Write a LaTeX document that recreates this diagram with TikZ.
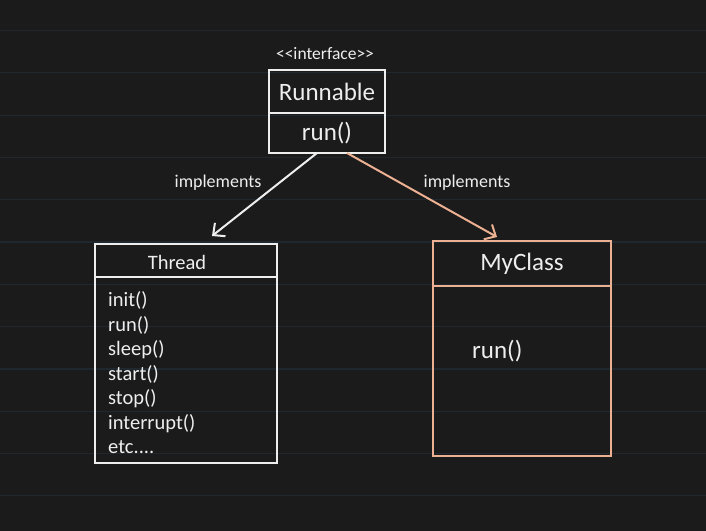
\documentclass[tikz,border=0pt]{standalone}
\usepackage{fontspec}
\setmainfont{Carlito}
\usetikzlibrary{arrows.meta,positioning,calc}
\definecolor{boardbg}{RGB}{27,27,27}
\definecolor{boardline}{RGB}{31,40,46}
\definecolor{chalk}{RGB}{238,238,238}
\definecolor{peach}{RGB}{236,176,146}

\begin{document}
\begin{tikzpicture}[x=1pt, y=-1pt,
  cls/.style={draw=chalk, line width=2pt, inner sep=0pt, outer sep=0pt, text=chalk},
  big/.style={font=\fontsize{25}{29}\selectfont},
  mid/.style={font=\fontsize{20.5}{24.5}\selectfont},
  lbl/.style={text=chalk, font=\fontsize{18}{20}\selectfont, inner sep=0pt},
  arr/.style={-{Straight Barb[length=9pt,width=17pt]}, line width=2pt}]
% board
\useasboundingbox (0,0) rectangle (706,530);
\fill[boardbg] (-2,-2) rectangle (708,532);
\foreach \k in {0,...,11}
  \draw[boardline, line width=1.2pt] (0,30.5+42.3*\k) -- (706,30.5+42.3*\k);
% interface
\node[lbl, font=\fontsize{17.5}{19}\selectfont] (stereo) at (325,54) {{<}{<}interface{>}{>}};
\node[cls, big, minimum width=116pt, minimum height=43pt] (runnable) at (327,91.5) {Runnable};
\node[cls, big, minimum width=116pt, minimum height=40pt, below=0pt of runnable] (runbody) {run()};
% Thread
\node[cls, minimum width=182pt, minimum height=33pt] (threadhead) at (186,260.5) {};
\node[lbl, mid] (threadtitle) at ([xshift=-9pt,yshift=-2pt]threadhead.center) {Thread};
\node[cls, minimum width=182pt, minimum height=186pt, below=0pt of threadhead] (threadbody) {};
\node[lbl, mid, align=left, anchor=west] (threadops) at ([xshift=13pt,yshift=-3pt]threadbody.west)
  {init()\\run()\\sleep()\\start()\\stop()\\interrupt()\\etc....};
% MyClass
\node[cls, big, draw=peach, line width=2.5pt, minimum width=178pt, minimum height=45pt] (myhead) at (522,263.5) {MyClass};
\node[cls, draw=peach, line width=2.5pt, minimum width=178pt, minimum height=170pt, below=0pt of myhead] (mybody) {};
\node[lbl, big, anchor=west] (myops) at ([xshift=39pt,yshift=20pt]mybody.west) {run()};
% implements
\draw[arr, chalk] ([xshift=-10pt]runbody.south) -- ([xshift=26pt,yshift=8pt]threadhead.north);
\draw[arr, peach] ([xshift=20pt]runbody.south) -- ([xshift=-25pt,yshift=4pt]myhead.north);
\node[lbl] (implleft) at (218,183) {implements};
\node[lbl] (implright) at (467,183) {implements};
\end{tikzpicture}
\end{document}
